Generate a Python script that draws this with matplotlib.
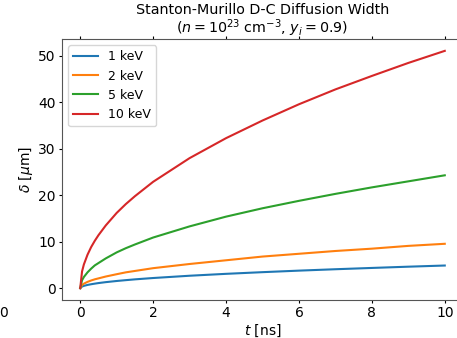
import matplotlib
matplotlib.use("Agg")
import matplotlib.pyplot as plt

# czas [ns] i szerokosc dyfuzji [um]
t_ns = [0, 0.05, 0.1, 0.2, 0.3, 0.4, 0.5, 0.7, 1, 1.25, 1.5, 2, 3, 4, 5, 6, 7, 8, 9, 10]
delta_1kev = [0, 0.34, 0.49, 0.69, 0.84, 0.97, 1.09, 1.29, 1.54, 1.72, 1.89, 2.18, 2.67, 3.08, 3.44,
              3.77, 4.07, 4.35, 4.62, 4.87]
delta_2kev = [0, 0.68, 0.96, 1.35, 1.65, 1.9, 2.1, 2.5, 3.0, 3.4, 3.7, 4.3, 5.2, 6.0, 6.8,
              7.4, 8.0, 8.5, 9.1, 9.55]
delta_5kev = [0, 1.7, 2.4, 3.4, 4.2, 4.9, 5.4, 6.4, 7.7, 8.6, 9.4, 10.9, 13.3, 15.4, 17.2,
              18.8, 20.3, 21.7, 23.0, 24.3]
delta_10kev = [0, 3.6, 5.1, 7.2, 8.85, 10.2, 11.4, 13.5, 16.2, 18.1, 19.8, 22.9, 28.0, 32.3, 36.1,
               39.6, 42.8, 45.7, 48.5, 51.1]

serie = [
    ("1 keV", delta_1kev),
    ("2 keV", delta_2kev),
    ("5 keV", delta_5kev),
    ("10 keV", delta_10kev),
]

fig = plt.figure(figsize=(4.57, 3.38), dpi=100)
# osie wychodza poza prawa krawedz (obrazek przyciety)
ax = fig.add_axes([62 / 457, 38 / 338, 401 / 457, 261 / 338])

for nazwa, d in serie:
    ax.plot(t_ns, d, label=nazwa)

ax.set_xticks([0, 2, 4, 6, 8, 10])
ax.set_yticks([0, 10, 20, 30, 40, 50])
ax.tick_params(top=True, length=2.5, pad=2, labelsize=10)
for s in ax.spines.values():
    s.set_color("#555555")
ax.set_xlabel(r"$t$ [ns]", fontsize=10, labelpad=1.5)
ax.set_ylabel(r"$\delta$ [$\mu$m]", fontsize=10, labelpad=2)
ax.set_title("Stanton-Murillo D-C Diffusion Width\n"
             r"($n = 10^{23}$ cm$^{-3}$, $y_i = 0.9$)", fontsize=10.3, pad=4,
             linespacing=1.05)
ax.legend(loc="upper left", fontsize=9)

# kawalek sasiedniego wykresu po lewej
fig.text(4 / 457, 1 - 313 / 338, "0", ha="center", va="center", fontsize=10)

fig.savefig("out.png", dpi=100)
